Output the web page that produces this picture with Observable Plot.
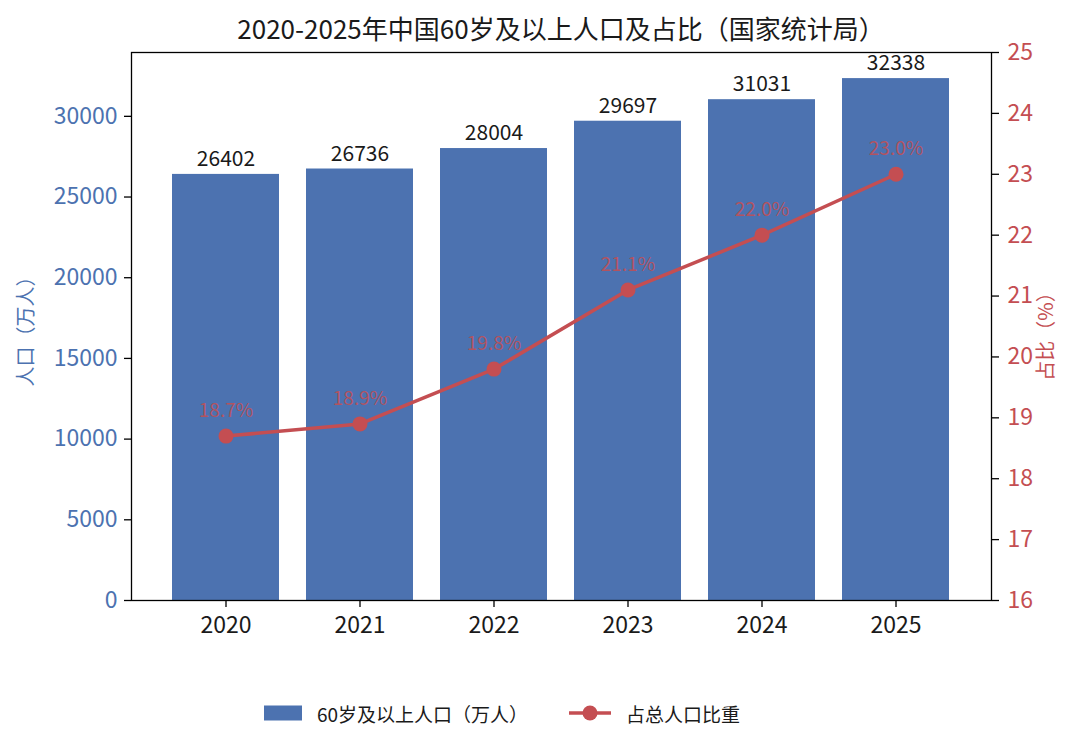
<!DOCTYPE html>
<html>
<head>
<meta charset="utf-8">
<script src="https://cdn.jsdelivr.net/npm/d3@7"></script>
<script src="https://cdn.jsdelivr.net/npm/@observablehq/plot@0.6"></script>
<style>
  body { margin: 0; background: #fff; font-family: "Noto Sans CJK SC", "Noto Sans", sans-serif; color: #1a1a1a; }
  #wrap { position: relative; width: 1080px; height: 748px; }
  #title { position: absolute; z-index: 2; left: 131px; width: 860px; top: 12px; text-align: center; font-size: 26px; line-height: 32px; }
  #chart { position: absolute; z-index: 1; left: 0; top: 0; }
  .leg { position: absolute; top: 700px; height: 26px; display: flex; align-items: center; font-size: 19px; }
</style>
</head>
<body>
<div id="wrap">
  <div id="title">2020-2025年中国60岁及以上人口及占比（国家统计局）</div>
  <div id="chart"></div>
  <div class="leg" style="left:264px;">
    <svg width="38" height="16" style="margin-right:15px"><rect x="0" y="0.5" width="38" height="15" fill="#4C72B0"></rect></svg>
    <span>60岁及以上人口（万人）</span>
  </div>
  <div class="leg" style="left:569px;">
    <svg width="42" height="16" style="margin-right:15px"><line x1="0" x2="42" y1="8" y2="8" stroke="#C44E52" stroke-width="3.5"></line><circle cx="21" cy="8" r="7.5" fill="#C44E52"></circle></svg>
    <span>占总人口比重</span>
  </div>
</div>
<script>
const years = ["2020", "2021", "2022", "2023", "2024", "2025"];
const population = [26402, 26736, 28004, 29697, 31031, 32338];
const share = [18.7, 18.9, 19.8, 21.1, 22.0, 23.0];
const leftTicks = [0, 5000, 10000, 15000, 20000, 25000, 30000];
const rightTicks = [16, 17, 18, 19, 20, 21, 22, 23, 24, 25];

const BLUE = "#4C72B0";
const RED = "#C44E52";

const data = years.map((year, i) => ({year, pop: population[i], pct: share[i]}));
const yMax = d3.max(population) * 1.05;
const pMin = 16, pMax = 25;
const toLeft = p => (p - pMin) / (pMax - pMin) * yMax;
const toPct = v => v / yMax * (pMax - pMin) + pMin;

const chart = Plot.plot({
  width: 1080,
  height: 662,
  marginLeft: 131,
  marginRight: 89,
  marginTop: 52,
  marginBottom: 62,
  style: {fontFamily: '"Noto Sans CJK SC", "Noto Sans", sans-serif', background: "transparent"},
  x: {type: "band", domain: years, paddingInner: 0.2, paddingOuter: 0.29},
  y: {domain: [0, yMax]},
  marks: [
    Plot.barY(data, {x: "year", y: "pop", fill: BLUE}),
    Plot.text(data, {x: "year", y: "pop", text: d => String(d.pop), dy: -15, fontSize: 21, fill: "#1a1a1a"}),
    Plot.line(data, {x: "year", y: d => toLeft(d.pct), stroke: RED, strokeWidth: 3.5}),
    Plot.dot(data, {x: "year", y: d => toLeft(d.pct), r: 7.5, fill: RED}),
    Plot.text(data, {x: "year", y: d => toLeft(d.pct), text: d => d.pct.toFixed(1) + "%", dy: -25, fontSize: 19, fill: RED, fillOpacity: 0.85}),
    Plot.frame({stroke: "black", strokeWidth: 1.3}),
    // left axis
    Plot.axisY({anchor: "left", ticks: leftTicks, tickSize: 7, tickPadding: 7, tickFormat: d => String(d), fontSize: 23, stroke: "black", strokeWidth: 1.3, fill: BLUE, label: null}),
    // right axis
    Plot.axisY({anchor: "right", ticks: rightTicks.map(toLeft), tickSize: 7, tickPadding: 9, tickFormat: d => String(Math.round(toPct(d))), fontSize: 23, stroke: "black", strokeWidth: 1.3, fill: RED, label: null}),
    // x axis
    Plot.axisX({anchor: "bottom", tickSize: 7, tickPadding: 9, fontSize: 23, stroke: "black", strokeWidth: 1.3, fill: "#1a1a1a", label: null}),
    // axis titles
    Plot.text(["人口（万人）"], {frameAnchor: "left", textAnchor: "middle", rotate: -90, dx: -105, fontSize: 20, fill: BLUE}),
    Plot.text(["占比（%）"], {frameAnchor: "right", textAnchor: "middle", rotate: -90, dx: 55, dy: 5, fontSize: 20, fill: RED})
  ]
});
document.getElementById("chart").appendChild(chart);
</script>
</body>
</html>
